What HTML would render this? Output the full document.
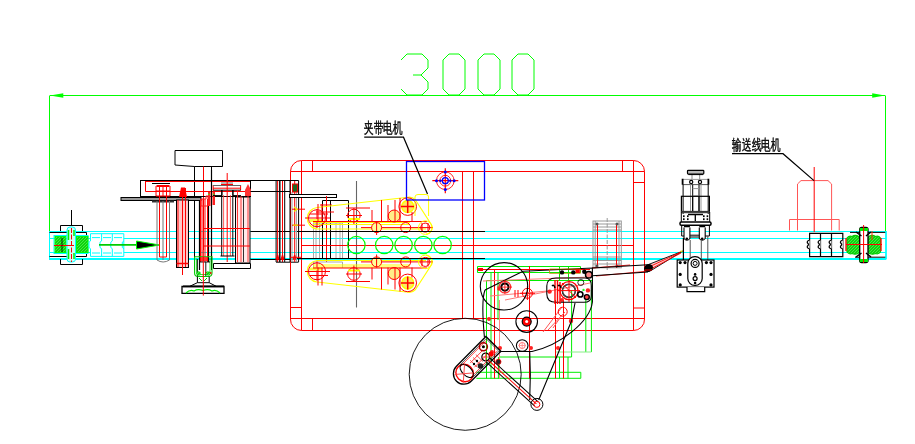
<!DOCTYPE html>
<html><head><meta charset="utf-8">
<style>
html,body{margin:0;padding:0;background:#fff;width:915px;height:444px;overflow:hidden}
svg{display:block;position:absolute;left:0;top:0;will-change:transform}
.t{font-family:"Liberation Sans",sans-serif;font-size:13px;fill:#000;stroke:#000;stroke-width:0.45}
</style></head><body>
<svg width="915" height="444" viewBox="0 0 915 444" fill="none" stroke-width="1">
<!-- DIMENSION -->
<g stroke="#00ff00">
 <path d="M49.5 95.5V232M885.5 95.5V232M50 95.5H885"/>
 <path d="M401 60 L407 54 H422 L428 60 V68 L421 75 L428 82 V89 L422 95 H407 L401 89 M413 75 H421" />
 <path d="M449 54 H459 L465 60 V89 L459 95 H449 L443 89 V60 Z"/>
 <path d="M484 54 H494 L500 60 V89 L494 95 H484 L478 89 V60 Z"/>
 <path d="M518 54 H528 L534 60 V89 L528 95 H518 L512 89 V60 Z"/>
</g>
<path d="M50 95.5 L63.3 93.2 V97.8 Z M885 95.5 L872.2 93.2 V97.8 Z" fill="#00ff00" stroke="none"/>

<!-- CYAN CONVEYOR LINES -->
<g stroke="#00ffff">
 <path d="M49 231.5H886M49 238.5H886M49 252.5H886" /><path d="M49 259H886" stroke-width="2"/>
 <path d="M886 231V259M49.5 231V259"/>
</g>

<!-- LEFT ROLLER -->
<defs>
 <pattern id="hatch" width="3" height="3" patternUnits="userSpaceOnUse">
  <rect width="3" height="3" fill="#10d010"/>
  <path d="M0 3L3 0" stroke="#66ff66" stroke-width="0.6"/>
 </pattern>
</defs>
<g>
 <path d="M71.5 210V226" stroke="#000"/>
 <path d="M60.5 231V225.5H82.5V231M60.5 259V264.5H82.5V259" stroke="#000"/>
 <path d="M49.5 232.5H86.5V256.5H49.5" stroke="#000"/>
 <rect x="54" y="235.5" width="34" height="18" stroke="#00ffff"/>
 <rect x="55" y="236.5" width="11" height="16" fill="url(#hatch)" stroke="#00ff00"/>
 <rect x="76.5" y="236.5" width="11.5" height="16" fill="url(#hatch)" stroke="#00ff00"/>
 <rect x="67" y="227" width="8.5" height="35" rx="3" fill="#ccfff4" stroke="#00ffff"/>
 <path d="M68.5 230V240M68.5 249V259M74 230V236M74 253V259" stroke="#00ee00" stroke-width="1.5"/>
 <path d="M54 245.5H74" stroke="#ff0000"/>
 <path d="M71.5 228V262" stroke="#ff0000" stroke-dasharray="5 1.5"/>
 <path d="M62 238V252" stroke="#000" stroke-width="0.8"/>
 <g stroke="#00ffff">
  <path d="M90.5 233.7H123.8V256.4H90.5V248.7L89 247.5V242.2L90.5 241Z" fill="#fff"/>
  <path d="M101.6 233.7V241L100 242.2V247.5L101.6 248.7V256.4M112.3 233.7V241L110.8 242.2V247.5L112.3 248.7V256.4M123.8 241L122.3 242.2V247.5L123.8 248.7"/>
  <path d="M92 237.6H100M103 237.6H111M114 237.6H122M92 253H100M103 253H111M114 253H122" />
 </g>
 <path d="M99 244.9H137" stroke="#00cc00" stroke-width="1.8"/>
 <path d="M136.5 241L159.5 245L136.5 249Z" fill="#000" stroke="#00ff00"/>
</g>

<!-- LEFT COLUMNS -->
<g>
 <path d="M175 150.5H222.5V166.5H194.5L175 165Z" stroke="#000" fill="#fff"/>
 <path d="M194.5 166.5V270M211.5 166.5V270" stroke="#000"/>
 <path d="M203.5 166.5V250" stroke="#ff0000"/>
 <rect x="140.5" y="180.5" width="110" height="16" stroke="#000"/>
 <path d="M145 181.5H250M145.5 181.5V191.5H250" stroke="#ff0000"/>
 <path d="M250.5 180.5H290M250.5 191.5H276" stroke="#000"/>
 <rect x="121" y="197.5" width="80" height="3" fill="#999" stroke="#000"/>
 <path d="M152 201.5H174" stroke="#333" stroke-width="2"/>
 <!-- shaft 1 -->
 <path d="M157 201V260Q163 264 169.5 260V201M163 201V260" stroke="#777"/>
 <path d="M159.5 196V257H166.5V196" stroke="#ff0000"/>
 <path d="M156 186H170V196H156Z" stroke="#ff0000"/>
 <path d="M157 186H169" stroke="#ff0000" stroke-width="2"/>
 <path d="M159.5 186V196M163 186V196M166.5 186V196M156 191H170" stroke="#ff0000"/>
 <path d="M152 183.5H170" stroke="#000"/>
 <!-- column 2 pink -->
 <rect x="176.5" y="200" width="12" height="67.5" fill="#ffc8c8" stroke="#000"/>
 <path d="M182.5 188V267M185.5 188V267M178 200V267" stroke="#ff0000"/>
 <path d="M181 187.5H185L187 197H179Z" fill="#ff0000"/>
 <path d="M176.5 263.5H188.5" stroke="#ff0000" stroke-width="1.5"/>
 <path d="M182.5 267V275" stroke="#ff0000"/>
 <!-- column 3 -->
 <path d="M199.5 200V270M208.5 200V262M211.5 170V262" stroke="#000" stroke-width="1.2"/>
 <path d="M200.5 199V262M202 199V262M205 199V262M207.5 199V262" stroke="#ff0000"/>
 <path d="M201 199H206V196H208V206H201Z" stroke="#ff2222"/>
 <path d="M208 192H210.5V206H208ZM212.5 192H215V205H212.5Z" fill="#ff2222"/>
 <circle cx="208.8" cy="194.3" r="0.8" fill="#22ff22"/><circle cx="213.6" cy="194.3" r="0.8" fill="#22ff22"/>
 <!-- top T assembly -->
 <path d="M221 183H233" stroke="#777"/>
 <path d="M221 184.5H233M213 188.2H241M213.2 185V190M240.6 185V190" stroke="#ff0000"/>
 <path d="M213 185.5H240.9" stroke="#666"/>
 <path d="M213 190.2H240.9M213 195.6H222V190M233 190V195.6H241" stroke="#000"/>
 <path d="M221.7 190V256M232.8 190V256" stroke="#000"/>
 <path d="M227.2 173V262" stroke="#ff0000"/>
 <path d="M223.6 195V256M230.4 195V256" stroke="#ff3333" stroke-width="0.8"/>
 <path d="M220.5 256H234.5" stroke="#000"/>
 <!-- column 5 -->
 <rect x="235.5" y="197" width="14.5" height="66" fill="#ffeaea" stroke="#000"/>
 <path d="M237.5 190V262M241 196V262M248 188V262" stroke="#ff2222" stroke-width="0.9"/>
 <path d="M243.5 196V262" stroke="#000" stroke-width="0.8"/>
 <path d="M245 190L248 184L251 190V196H245Z" fill="#ff3333"/>
 <path d="M213.5 263.5H250.5V268.5H213.5Z" stroke="#000"/>
 <path d="M203 228.5H250M203 246H250" stroke="#ff0000"/>
 <path d="M250.5 231.5H290M250.5 259.5H290" stroke="#000"/>
 <!-- group 276-300 -->
 <path d="M276.1 180.5V262M284.7 180.5V262" stroke="#000"/>
 <path d="M279.8 180.5V262" stroke="#000" stroke-width="1.4"/>
 <path d="M277.6 181V262M282.5 181V262" stroke="#ff0000"/>
 <path d="M276 262.2H298.6M250.5 191.5H290" stroke="#000"/>
 <path d="M277.6 255L276 260M277.6 255L279 260M282.5 255L281 260M282.5 255L284 260M294.7 255L293 260M294.7 255L296 260" stroke="#ff0000" stroke-width="1.2"/>
 <!-- foot -->
 <path d="M194.6 256.8V273Q194.6 276.5 198 276.5H208.6Q212 276.5 212 273V256.8H194.6" stroke="#00cc00" stroke-width="1.1"/>
 <path d="M196.6 258.5V272Q196.6 274.5 199 274.5H207.6Q210 274.5 210 272V258.5" stroke="#00dd00" stroke-width="0.8"/>
 <path d="M197.4 259V276M205.8 262V276M200 262H210" stroke="#000" stroke-width="0.9"/>
 <path d="M201 257H207V261H201Z" fill="#ff3333"/>
 <path d="M205.3 272H211.5V274.2H205.3Z" fill="#ff0000"/>
 <circle cx="198.5" cy="273.5" r="2.3" fill="url(#hatch)"/><circle cx="208.1" cy="273.5" r="2.3" fill="url(#hatch)"/>
 <path d="M197.4 276.5V282.7H209.2V276.5" stroke="#000"/>
 <path d="M199 278L202 281M207 278L204 281" stroke="#00cc00"/>
 <path d="M197.4 282.7L190 286.2M209.2 282.7L216 286.2" stroke="#000"/>
 <path d="M182 286.5H224V293.4H182Z" stroke="#000" stroke-width="1.3"/>
 <path d="M183 286.3H224" stroke="#000" stroke-width="1.8"/>
 <path d="M186 293Q190 289 194 291Q198 288.5 203 290.5Q208 288.5 212 291Q216 289 220 293" stroke="#00ee00" stroke-width="1.2"/>
 <path d="M203.3 250V295.6" stroke="#ff0000"/>
</g>

<!-- RED FRAME -->
<g stroke="#ff0000">
 <path d="M290.5 319V171.5 A11 11 0 0 1 301.5 160.5 H633.5 A11 11 0 0 1 644.5 171.5 V319 A11 11 0 0 1 633.5 330.5 H301.5 A11 11 0 0 1 290.5 319Z"/>
 <path d="M301.5 160.5V330.5M633.5 160.5V330.5M290.5 171.5H644.5M290.5 318.5H644.5"/>
 <path d="M312.5 160.5V171.5M622.5 160.5V171.5M312.5 318.5V330.5M290.5 307.5H301.5M633.5 182.5H644.5M633.5 308H644.5"/>
 <path d="M462.5 171.5V318.5M473.5 171.5V318.5"/>
</g>

<!-- MIDDLE INSIDE FRAME -->
<g>
 <path d="M276 180.5H298.6M290 180.5V262M298.6 180.5V262" stroke="#000"/>
 <path d="M292 192V262M296.4 192V262" stroke="#999"/>
 <path d="M294.7 181V262" stroke="#ff0000"/>
 <rect x="292.5" y="184" width="5" height="8" fill="#226622" stroke="#ff0000"/>
 <path d="M292 209.2H305M292 225.2H305" stroke="#ff0000"/>
 <path d="M294 207L297 209.2L294 211.5M293 225.2H298" stroke="#eeee00" stroke-width="1.3"/>
 <path d="M290.5 257.3H301.5" stroke="#ff0000"/>
 <rect x="289.5" y="194.5" width="47" height="3" stroke="#000" fill="#fff"/>
 <path d="M322.5 258.5V200.5H348.5V258.5M330.5 200.5V258.5" stroke="#000"/>
 <path d="M326.5 196V262M316 212H334M320 205H332" stroke="#ff0000"/>
 <path d="M356.5 181V307.5" stroke="#666" stroke-width="1.1"/>
 <path d="M313.5 223H342.5V258.5H313.5Z M316 223V258.5M319.5 223V258.5M336 223V258.5M340 223V258.5" stroke="#aaa"/>
 <path d="M313.5 262H342.5V268M313.5 262V268" stroke="#aaa"/>
 
 <path d="M301.5 245.5H633.5" stroke="#ff0000"/>
</g>
<!-- BELTS (upper, mirrored lower) -->
<g>
 <path d="M317 207.5 L406 197.5 M317 207.5 A10.8 10.8 0 0 0 317 229 H426" stroke="#ffff00" stroke-width="1.2"/>
 <path d="M406 197.8 A8.8 8.8 0 0 1 415.5 200 L431 224 A6.8 6.8 0 0 1 426 234.4" stroke="#ffff00" stroke-width="1.2"/>
 <path d="M313 222.5H410M313 224.5H410" stroke="#ffff00"/>
 <circle cx="317" cy="218.2" r="8.5" stroke="#ff0000"/>
 <path d="M305 218H330M317 209V228M310 214H328" stroke="#ff0000"/>
 <rect x="310" y="219" width="12" height="3" fill="#ffff44"/>
 <circle cx="353.9" cy="215.5" r="6.3" stroke="#ff0000"/>
 <path d="M348 219H360" stroke="#ffff00" stroke-width="2"/>
 <path d="M353.9 208V224M346 215.5H362" stroke="#ff0000"/>
 <circle cx="407.7" cy="206.6" r="8.8" stroke="#ff0000"/>
 <circle cx="407.7" cy="206.6" r="6" fill="#ffe866" stroke="#ffff00" stroke-width="1.5"/>
 <path d="M407.7 200V213M401 206.6H414" stroke="#ff0000" stroke-width="1.5"/>
 <circle cx="394.2" cy="216" r="6" stroke="#ff0000" fill="#ffee88"/>
 <path d="M381.5 200V222M388 205V222M395 200V222M400 198V222M412 212V222M346 208H370M372 210V222M318 204V222M322 204V222" stroke="#ff0000"/>
 <path d="M313 221.5H427M361 227.6H433" stroke="#ff0000"/>
 <circle cx="376.6" cy="227.6" r="5" stroke="#ff0000" fill="#ffff99"/>
 <circle cx="405.7" cy="227.6" r="5" stroke="#ff0000"/>
 <circle cx="425.3" cy="227.6" r="6.8" stroke="#ffff00"/>
 <circle cx="425.3" cy="227.6" r="4.5" stroke="#ff0000"/>
 <path d="M422 223V232M428 223V232M376.6 222V235" stroke="#ff0000"/>
</g>
<g transform="translate(0 489.5) scale(1 -1)">
 <path d="M317 207.5 L406 197.5 M317 207.5 A10.8 10.8 0 0 0 317 229 H426" stroke="#ffff00" stroke-width="1.2"/>
 <path d="M406 197.8 A8.8 8.8 0 0 1 415.5 200 L431 224 A6.8 6.8 0 0 1 426 234.4" stroke="#ffff00" stroke-width="1.2"/>
 <path d="M313 222.5H410M313 224.5H410" stroke="#ffff00"/>
 <circle cx="317" cy="218.2" r="8.5" stroke="#ff0000"/>
 <path d="M305 218H330M317 209V228M310 214H328" stroke="#ff0000"/>
 <rect x="310" y="219" width="12" height="3" fill="#ffff44"/>
 <circle cx="353.9" cy="215.5" r="6.3" stroke="#ff0000"/>
 <path d="M348 219H360" stroke="#ffff00" stroke-width="2"/>
 <path d="M353.9 208V224M346 215.5H362" stroke="#ff0000"/>
 <circle cx="407.7" cy="206.6" r="8.8" stroke="#ff0000"/>
 <circle cx="407.7" cy="206.6" r="6" fill="#ffe866" stroke="#ffff00" stroke-width="1.5"/>
 <path d="M407.7 200V213M401 206.6H414" stroke="#ff0000" stroke-width="1.5"/>
 <circle cx="394.2" cy="216" r="6" stroke="#ff0000" fill="#ffee88"/>
 <path d="M381.5 200V222M388 205V222M395 200V222M400 198V222M412 212V222M346 208H370M372 210V222M318 204V222M322 204V222" stroke="#ff0000"/>
 <path d="M313 221.5H427M361 227.6H433" stroke="#ff0000"/>
 <circle cx="376.6" cy="227.6" r="5" stroke="#ff0000" fill="#ffff99"/>
 <circle cx="405.7" cy="227.6" r="5" stroke="#ff0000"/>
 <circle cx="425.3" cy="227.6" r="6.8" stroke="#ffff00"/>
 <circle cx="425.3" cy="227.6" r="4.5" stroke="#ff0000"/>
 <path d="M422 223V232M428 223V232M376.6 222V235" stroke="#ff0000"/>
</g>
<path d="M415 216V197Q415 194.5 418 194.5H426Q428.6 194.5 428.6 197V216" stroke="#ffff00"/>
<g stroke="#00ff00" stroke-width="1.2">
 <circle cx="356.4" cy="245" r="8.7"/>
 <circle cx="384.2" cy="245" r="8.7"/>
 <circle cx="403.6" cy="245" r="8.7"/>
 <circle cx="423.3" cy="245" r="8.7"/>
 <circle cx="442.6" cy="245" r="8.7"/>
</g>
<path d="M297 231.5H485M297 258.5H485" stroke="#000"/>

<!-- BLUE MOTOR PLATE -->
<rect x="406.5" y="161.5" width="78" height="38.5" stroke="#0000ff" stroke-width="1.3"/>
<g transform="translate(445.3 180.7)">
 <circle r="8.8" stroke="#ff2222"/>
 <circle r="5.4" stroke="#ff2222"/>
 <path d="M-13 0H13M0 -12.5V12.5" stroke="#ff0000" stroke-width="1.2"/>
 <circle r="3" stroke="#0000ff" stroke-width="1.3"/>
 <g fill="#0000ff"><circle cx="8.8" r="1.5"/><circle cx="-8.8" r="1.5"/><circle cy="8.8" r="1.5"/><circle cy="-8.8" r="1.5"/><circle cx="5" r="1.2"/><circle cx="-5" r="1.2"/></g>
</g>

<!-- RIGHT SECTION -->
<g>
 <!-- grey dashed box -->
 <g stroke="#999">
  <rect x="593" y="221" width="28.3" height="46.8"/>
  <path d="M593 224H621M593 227H621M593 230H621M593 257H621M593 260.5H621M593 264H621M595.2 221V268M619 221V268"/>
  <path d="M607.2 218V270" stroke-dasharray="4 1.5"/>
 </g>
 <path d="M597.5 224V268M616.5 224V268" stroke="#ff0000"/>
 <g fill="#555"><circle cx="597" cy="224" r="1.5"/><circle cx="617" cy="224" r="1.5"/><circle cx="597" cy="266" r="1.5"/><circle cx="617" cy="266" r="1.5"/></g>
 
 <!-- arm -->
 <path d="M596 276L650 271M592 268L630 265" stroke="#ff0000" stroke-width="0.9"/>
 <path d="M648 264.7 L682.6 251.2 L651 270.5Z" stroke="#000" fill="#ffcccc" stroke-width="0.9"/>
 <path d="M651 266L680 252.5M652 268.3L681 253" stroke="#ff0000" stroke-width="0.9"/>
 <path d="M680.5 251.5L682.6 251.2" stroke="#dddd00" stroke-width="1.5"/>
 <ellipse cx="648.5" cy="268" rx="4.6" ry="3.8" fill="#000" transform="rotate(-25 648.5 268)"/>
 <path d="M645 270H652" stroke="#ff0000"/>
 <!-- cylinder device -->
 <path d="M692 174V179.2M699.7 174V179.2" stroke="#888"/>
 <rect x="687.5" y="170.3" width="16.3" height="3.8" rx="0.8" fill="#bbb" stroke="#000" stroke-width="1.2"/>
 <path d="M688.5 174.6H703" stroke="#000" stroke-width="1"/>
 <path d="M682.5 179.4H708.5" stroke="#999"/>
 <path d="M682.5 184.6H708.5" stroke="#555"/>
 <path d="M682.6 178.8V184.8M708.4 178.8V184.8" stroke="#000" stroke-width="1.8"/>
 <g fill="#fff" stroke="#000" stroke-width="1.2"><circle cx="691.2" cy="181.9" r="1.6"/><circle cx="700" cy="181.9" r="1.6"/></g>
 <path d="M683.1 184.6V214M692.7 184.6V211M699 184.6V211M708.2 184.6V214" stroke="#000"/>
 <path d="M690.5 184.6V211M701 184.6V211M692.7 188.6H699M692.7 196H699" stroke="#999"/>
 <rect x="681.4" y="196.3" width="28" height="15.2" stroke="#000" stroke-width="1.2"/>
 <path d="M692.7 196.3V211M699 196.3V211" stroke="#000"/>
 <path d="M681.3 212.2H709.7" stroke="#444" stroke-width="2"/>
 <path d="M681.3 212V222M709.7 212V222" stroke="#000"/>
 <path d="M688 214.5H703M695.3 214.5V221" stroke="#000" stroke-width="1.3"/>
 <g fill="#000">
  <rect x="683" y="215.3" width="1.6" height="1.8"/><rect x="687" y="215.3" width="1.6" height="1.8"/><rect x="683" y="218.3" width="1.6" height="1.8"/><rect x="687" y="218.3" width="1.6" height="1.8"/>
  <rect x="703" y="215.3" width="1.6" height="1.8"/><rect x="706.6" y="215.3" width="1.6" height="1.8"/><rect x="703" y="218.3" width="1.6" height="1.8"/><rect x="706.6" y="218.3" width="1.6" height="1.8"/>
 </g>
 <rect x="680" y="222.1" width="31" height="3.2" rx="1.2" fill="#fff" stroke="#000" stroke-width="1.5"/>
 <path d="M681.7 225.3V236H684M709.4 225.3V236H704.4" stroke="#000"/>
 <path d="M684 226.6H689.9M699.3 226.6H705.2" stroke="#000" stroke-width="2"/>
 <g stroke="#000" stroke-width="1.1" fill="#fff">
  <path d="M684 227.5V238.5Q687 242 689.9 238.5V227.5"/>
  <path d="M699.3 227.5V238.5Q702.2 242 705.2 238.5V227.5"/>
 </g>
 <g fill="#000"><circle cx="686.8" cy="238.8" r="1.3"/><circle cx="702.2" cy="238.8" r="1.3"/></g>
 <path d="M683.4 238V260" stroke="#000" stroke-width="1.2"/>
 <path d="M690.2 240V260M701.3 240V260M707.8 236V260" stroke="#555" stroke-width="1"/>
 <path d="M690 235.2H699.3M690 237H699.3" stroke="#000"/>
 <!-- gearbox -->
 <g stroke="#000" stroke-width="1.2" fill="#fff">
  <rect x="677.2" y="260" width="36.8" height="27.1"/>
  <path d="M687 287.1V291.6H704.7V287.1"/>
  <rect x="687.8" y="256.6" width="14.4" height="28.8" rx="7"/>
  <circle cx="695.1" cy="263.4" r="4"/>
  <circle cx="695.1" cy="278.6" r="2"/>
 </g>
 <circle cx="695.1" cy="263.4" r="2" fill="#fff" stroke="#000"/>
 <g fill="#000">
  <circle cx="695.1" cy="274.4" r="1.3"/><circle cx="695.1" cy="283" r="1.3"/>
  <circle cx="680.2" cy="262.6" r="1.6"/><circle cx="685" cy="262.6" r="1.6"/><circle cx="706.4" cy="262.6" r="1.6"/><circle cx="711" cy="262.6" r="1.6"/>
  <circle cx="680.2" cy="274.4" r="1.6"/><circle cx="711" cy="274.4" r="1.6"/><circle cx="680.2" cy="284.9" r="1.6"/><circle cx="711" cy="284.9" r="1.6"/>
 </g>
 <!-- right motor -->
 <g stroke="#ff5555">
  <path d="M797.5 230.5V184L801 180.6H828L831.6 184V230.5"/>
  <path d="M789.5 230.5V219.5H839.2V230.5"/>
 </g>
 <path d="M814.2 167V232" stroke="#ff0000"/>
 <!-- right boxes -->
 <g stroke="#000" stroke-width="1.2">
  <path d="M809.6 233.3H842.8V256.6H809.6ZM820.5 233.3V256.6M831.5 233.3V256.6"/>
 </g>
 <g stroke="#000" stroke-width="1.3" fill="#fff">
  <path d="M809.6 240Q806.5 241 807.5 243Q809.5 244.5 807.5 246Q806.5 248 809.6 249"/>
  <path d="M820.5 240Q817.4 241 818.4 243Q820.4 244.5 818.4 246Q817.4 248 820.5 249"/>
  <path d="M831.5 240Q828.4 241 829.4 243Q831.4 244.5 829.4 246Q828.4 248 831.5 249"/>
  <path d="M842.8 240Q839.7 241 840.7 243Q842.7 244.5 840.7 246Q839.7 248 842.8 249"/>
 </g>
 <!-- right roller -->
 <path d="M850 232.4H886M855 257.2H886" stroke="#000"/>
 <path d="M847 238Q849 235.5 852 236.5Q855 234.5 858 236L860 238V251L858 253.5Q855 255 852 253.5Q849 254.5 847 252Z" fill="url(#hatch)" stroke="#00cc00" stroke-width="1.2"/>
 <path d="M880.5 238Q878.5 235.5 875.5 236.5Q872.5 234.5 869.5 236L867.5 238V251L869.5 253.5Q872.5 255 875.5 253.5Q878.5 254.5 880.5 252Z" fill="url(#hatch)" stroke="#00cc00" stroke-width="1.2"/>
 <rect x="859.7" y="227.3" width="8.3" height="35.3" rx="2" fill="#fff" stroke="#000" stroke-width="1.3"/>
 <path d="M859.7 229.5H868M859.7 260.5H868" stroke="#00ee00" stroke-width="3"/>
 <path d="M861.5 236L856 232M866 236L871 232M861.5 253L856 257M866 253L871 257" stroke="#000" stroke-width="1.5"/>
 <path d="M846 244.5H882M863.6 225V263" stroke="#ff0000"/>
 <path d="M846 238V251M881 238V251" stroke="#ff0000" stroke-width="1.3"/>
 <path d="M872 231V240" stroke="#ff3300"/>
<path d="M886 231V259.5" stroke="#00ffff" stroke-width="1.5"/>
</g>

<!-- LABELS -->
<text class="t" x="364.2" y="133.2" textLength="38.3" lengthAdjust="spacingAndGlyphs" style="font-size:14.5px">夹带电机</text>
<path d="M364.2 137.2H403.5L427.5 194" stroke="#000" stroke-width="1.2"/>
<text class="t" x="732.4" y="150.2" textLength="48" lengthAdjust="spacingAndGlyphs" style="font-size:15px">输送线电机</text>
<path d="M732 153.7H783L814 180.6" stroke="#000" stroke-width="1.2"/>

<!-- LABELER MECHANISM -->
<g>
 <!-- green structure -->
 <g stroke="#00ee00">
  <path d="M477.5 266.5H580.5V272.5H477.5Z"/>
  <path d="M486.5 280.5H592V290M486.5 280.5V378.5M491 272.5V378.5M498 272.5V320M498.4 357V378.5M476.4 372.3H580.8V378.3H476.4M499 357H571.6V290M559.5 357V378.5M568 357V378.5M585.8 300V352M591.4 290V352"/>
  <path d="M555.2 352H591.4" stroke="#88ee88"/>
  <path d="M559.5 266.5V280M568.5 266.5V280" />
 </g>
 <rect x="478" y="268" width="5" height="3" fill="#ff0000"/>
 <!-- red lines -->
 <g stroke="#ff0000">
  <path d="M477 269.5H590M494.5 270V378.5M529.5 266V378.5M555.5 300V378.5M563.5 300V378.5"/>
  <path d="M499.5 300V378.5" stroke="#ff8888"/>
  <path d="M483 281L590 277M490 296L548 291M505 300L590 283" stroke="#ff7777"/>
  <path d="M543 332L562 307M548 330L565 312M553 328L560 318" stroke="#ff5555"/>
  <circle cx="562.7" cy="311.7" r="4.5"/>
  <circle cx="527.4" cy="293.3" r="5"/>
  <path d="M520 293.3H535M527.4 286V300M515 290V297M518 290V297" />
 </g>
 <g fill="#ff2222">
  <circle cx="489" cy="318.9" r="2"/><circle cx="500" cy="348" r="2"/><circle cx="531" cy="348" r="2"/><circle cx="558" cy="348" r="2"/><circle cx="571" cy="321" r="2.2"/><circle cx="549.6" cy="291.6" r="2.2"/><circle cx="587.9" cy="290.4" r="2.2"/><circle cx="562" cy="300" r="2"/>
 </g>
 <!-- black plate -->
 <g stroke="#000" stroke-width="1.1">
  <path d="M485 290 L523 271.3 L592.4 268 V302 C590 322 560 345 532 351.5 H501.5 L499 352 M485 290 Q481 300 484.4 337"/>
  <path d="M592.4 275.8L648 272M592.4 268L648 264.7"/>
  <circle cx="504" cy="286.3" r="23.7"/>
  <circle cx="465.2" cy="374.3" r="56" stroke-width="0.9"/>
  <path d="M546.8 286 Q546.8 278 556 278 H585 Q591.3 278 591.3 286 V296 Q591.3 302.3 584 302.3 H556 Q546.8 302.3 546.8 294 Z"/>
  <circle cx="568.8" cy="291" r="6.5"/>
  <circle cx="526.7" cy="321.6" r="10.8"/>
  <circle cx="522.2" cy="345.5" r="5.8"/>
  <path d="M529.7 351.2 Q531 375 529.7 400 M538.7 400 L571.5 321 L575 303"/>
 </g>
 <circle cx="569" cy="290.6" r="9" stroke="#ff0000" stroke-width="1.2"/>
 <circle cx="569" cy="290.6" r="6.5" stroke="#444" stroke-width="1.3"/>
 <path d="M569 280V302M558 290.6H580M562 283L576 298" stroke="#ff0000"/>
 <path d="M555 280V304M557.5 280V304M560 282V304" stroke="#ff0000" stroke-width="1.4"/>
 <path d="M552 286Q554 284 555 288M558 286Q560 284 561 288" stroke="#000" stroke-width="1.5"/>
 <circle cx="580.3" cy="294.4" r="2.6" stroke="#000" stroke-width="1.6"/>
 <circle cx="586.8" cy="297.1" r="2.5" stroke="#000" stroke-width="1.4" fill="#ff4444"/>
 <circle cx="580.8" cy="282.5" r="3" stroke="#000" stroke-width="0.8"/>
 <circle cx="583.5" cy="289.9" r="1.2" fill="#22ff22"/>
 <path d="M549.5 269H580.3V273.4H549.5Z" stroke="#bb8800" stroke-width="0.8"/>
 <rect x="575.4" y="269.5" width="4.4" height="3.5" fill="#ff0000"/>
 <circle cx="526.7" cy="321.6" r="4.5" fill="#ff0000" stroke="#000" stroke-width="1.2"/>
 <circle cx="526.7" cy="321.6" r="1.5" fill="#fff"/>
 <circle cx="522.2" cy="345.5" r="3" stroke="#ff7777"/>
 <path d="M518.5 345.5H526M522.2 341.8V349.2" stroke="#ff8888" stroke-width="0.8"/>
 <circle cx="504.9" cy="287.1" r="5.8" stroke="#ff3333" stroke-width="1.2"/>
 <circle cx="504.9" cy="287.1" r="3.6" stroke="#000" stroke-width="2"/>
 <path d="M497 287.1H512M504.9 280V294" stroke="#ff0000" stroke-width="0.8"/>
 <circle cx="499" cy="289" r="1.8" fill="#ff2222"/>
 <g fill="#000">
  <circle cx="562" cy="272.4" r="2.2"/><circle cx="573.3" cy="272.4" r="2.2"/><circle cx="584.3" cy="271.7" r="2.2"/>
  
 </g>
 <circle cx="588.8" cy="274.7" r="3.3" stroke="#000" stroke-width="1.5" fill="#ff8888"/>
 
 <!-- arm capsule -->
 <g transform="translate(463.9 373.7) rotate(-45.4)">
  <path d="M0 -10.5 H42 V10.5 H0 A10.5 10.5 0 0 1 0 -10.5Z" stroke="#000" stroke-width="1.3"/>
  <path d="M0 -8.8 H40.5 V8.8 H0" stroke="#222" stroke-width="0.7"/>
  <path d="M2 -7.5 H39M2 7.5H39M12 -3H30M12 3H30" stroke="#ff2222" stroke-width="0.8"/>
  <ellipse cx="1" rx="8.5" ry="9" stroke="#ff0000" stroke-width="1.4"/>
  <ellipse cx="4" rx="4.5" ry="8.3" stroke="#000" stroke-width="1"/>
  <path d="M-7 -6L7 6M-7 6L7 -6" stroke="#ff4444" stroke-width="0.9"/>
  <path d="M14 -5V5M18 -5V5M22 -5V5" stroke="#ff3333" stroke-width="0.8"/>
 </g>
 <circle cx="483.4" cy="346.8" r="4" stroke="#aa0000" stroke-width="1.5"/>
 <circle cx="483.4" cy="346.8" r="1.5" fill="#000"/>
 <circle cx="485.7" cy="357" r="3.8" stroke="#000" stroke-width="1.3"/>
 <path d="M482 357H490M485.7 353V361" stroke="#ff3333" stroke-width="0.8"/>
 <circle cx="480.5" cy="366" r="2.8" fill="#222"/>
 <circle cx="477" cy="361" r="1.2" fill="#000"/><circle cx="474" cy="364" r="1.2" fill="#000"/>
 <circle cx="498.4" cy="361.8" r="2.6" fill="#222" stroke="#ff0000" stroke-width="0.8"/>
 <circle cx="492" cy="352" r="2" fill="#ff2222"/>
 <g transform="translate(488.2 360.2) rotate(42.2)">
  <path d="M0 -2.7H65M0 2.7H65" stroke="#000"/>
  <path d="M0 0H65" stroke="#ff0000"/>
 </g>
 <circle cx="536.9" cy="404.4" r="6" stroke="#000"/>
 <circle cx="536.9" cy="404.4" r="3" stroke="#ff0000"/>
 <circle cx="491" cy="354" r="2.5" fill="#ff0000"/>
</g>
</svg>
</body></html>
